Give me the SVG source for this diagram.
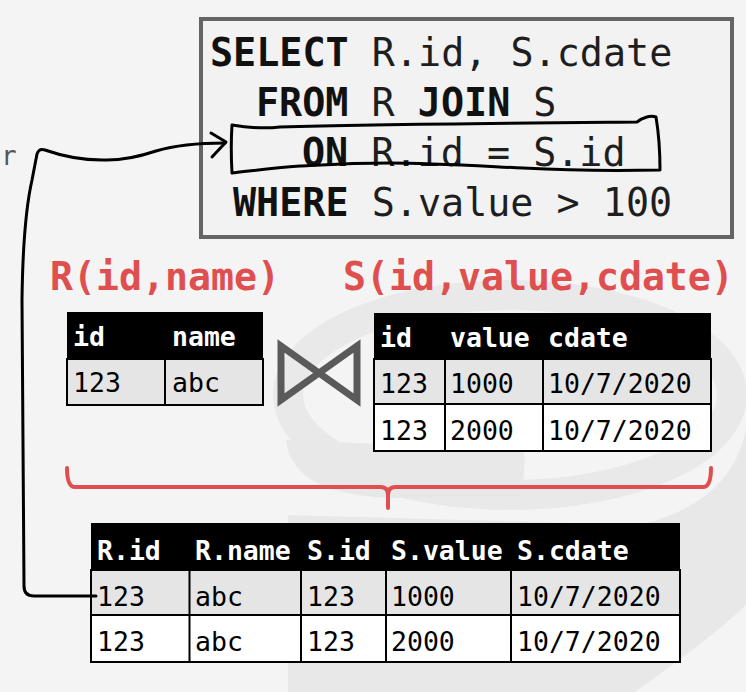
<svg xmlns="http://www.w3.org/2000/svg" width="746" height="692" viewBox="0 0 746 692">
<style>
text { font-family: "DejaVu Sans Mono", "Liberation Mono", monospace; white-space: pre; }
.sql { font-size: 38.4px; fill: #1e1e1e; }
.kw { font-weight: bold; fill: #111; }
.red { font-size: 38.2px; font-weight: bold; fill: #e04f4f; }
.th { font-size: 26.5px; font-weight: bold; fill: #ffffff; }
.td { font-size: 26.5px; fill: #000; }
.hdr { fill: #000; }
.cellg { fill: #e5e5e5; stroke: #000; stroke-width: 2; }
.cellw { fill: #ffffff; stroke: #000; stroke-width: 2; }
.ink { fill: none; stroke: #000; stroke-width: 3; stroke-linecap: round; stroke-linejoin: round; }
.wm { fill: #e8e8e8; }
</style>
<rect width="746" height="692" fill="#f4f4f4"/>
<g id="watermark">
<ellipse cx="510" cy="395" rx="222" ry="100" fill="none" stroke="#e9e9e9" stroke-width="30"/>
<path class="wm" d="M286,440 Q292,497 400,498 L520,498 Q526,470 524,450 Z"/>
<path class="wm" d="M288,515 L288,692 L635,692 C680,660 720,630 746,605 L746,430 C735,480 700,510 640,525 Z"/>
</g>
<text x="1" y="165" style="font-size:26px; fill:#555">r</text>
<g id="sql-box">
<rect x="201" y="19" width="531" height="218" fill="#f2f2f2" stroke="#646464" stroke-width="4"/>
<text class="sql" x="210" y="66"><tspan class="kw">SELECT</tspan> R.id, S.cdate</text>
<text class="sql" x="256" y="116"><tspan class="kw">FROM</tspan> R <tspan class="kw">JOIN</tspan> S</text>
<text class="sql" x="302" y="166"><tspan class="kw">ON</tspan> R.id = S.id</text>
<text class="sql" x="233" y="216"><tspan class="kw">WHERE</tspan> S.value &gt; 100</text>
</g>
<g id="highlight">
<path class="ink" d="M232,125 C250,128 262,129 280,127 C380,124 520,123 637,122 M637,122 C642,118 650,115 656,117 C659,135 660,152 660,170 C610,171 560,170 523,168 C480,166 430,163 390,163 C350,163 320,165 300,166 C270,168 250,171 232,173 C231,155 231,140 232,125"/>
</g>
<g id="label-R"><text class="red" x="50" y="290">R(id,name)</text></g>
<g id="label-S"><text class="red" x="343" y="290">S(id,value,cdate)</text></g>
<g id="table-R">
<rect class="hdr" x="67" y="312" width="196" height="47"/>
<rect class="cellg" x="67" y="359" width="196" height="46"/>
<line x1="165" y1="359" x2="165" y2="405" stroke="#000" stroke-width="2"/>
<text class="th" x="73" y="346">id</text>
<text class="th" x="172" y="346">name</text>
<text class="td" x="73" y="392">123</text>
<text class="td" x="172" y="392">abc</text>
</g>
<g id="join-symbol">
<path d="M281,346 L281,400 L357,346 L357,400 Z" fill="none" stroke="#5a5a5a" stroke-width="7" stroke-miterlimit="6"/>
</g>
<g id="table-S">
<rect class="hdr" x="374" y="313" width="337" height="46"/>
<rect class="cellg" x="374" y="359" width="337" height="45"/>
<rect class="cellw" x="374" y="404" width="337" height="47"/>
<line x1="445" y1="359" x2="445" y2="451" stroke="#000" stroke-width="2"/>
<line x1="543" y1="359" x2="543" y2="451" stroke="#000" stroke-width="2"/>
<text class="th" x="380" y="347">id</text>
<text class="th" x="450" y="347">value</text>
<text class="th" x="548" y="347">cdate</text>
<text class="td" x="380" y="393">123</text>
<text class="td" x="450" y="393">1000</text>
<text class="td" x="548" y="393">10/7/2020</text>
<text class="td" x="380" y="440">123</text>
<text class="td" x="450" y="440">2000</text>
<text class="td" x="548" y="440">10/7/2020</text>
</g>
<g id="brace">
<path d="M67,468 Q67,487 75,487 L381,487 Q388,487 388,495 L388,508 M388,495 Q388,487 395,487 L703,487 Q711,487 711,468" fill="none" stroke="#e04f4f" stroke-width="4" stroke-linecap="round"/>
</g>
<g id="table-result">
<rect class="hdr" x="91" y="523" width="589" height="47"/>
<rect class="cellg" x="91" y="570" width="589" height="45"/>
<rect class="cellw" x="91" y="615" width="589" height="47"/>
<g stroke="#000" stroke-width="2">
<line x1="189.5" y1="570" x2="189.5" y2="662"/>
<line x1="301" y1="570" x2="301" y2="662"/>
<line x1="386" y1="570" x2="386" y2="662"/>
<line x1="511" y1="570" x2="511" y2="662"/>
</g>
<text class="th" x="97" y="560">R.id</text>
<text class="th" x="195" y="560">R.name</text>
<text class="th" x="307" y="560">S.id</text>
<text class="th" x="391" y="560">S.value</text>
<text class="th" x="517" y="560">S.cdate</text>
<text class="td" x="97" y="606">123</text>
<text class="td" x="195" y="606">abc</text>
<text class="td" x="307" y="606">123</text>
<text class="td" x="391" y="606">1000</text>
<text class="td" x="517" y="606">10/7/2020</text>
<text class="td" x="97" y="651">123</text>
<text class="td" x="195" y="651">abc</text>
<text class="td" x="307" y="651">123</text>
<text class="td" x="391" y="651">2000</text>
<text class="td" x="517" y="651">10/7/2020</text>
</g>
<g id="connectors">
<path class="ink" d="M96,596 L34,596 Q24,596 24,586 L22,300 Q23,220 32,180 L37,154 Q39,148 45,150 C62,156 82,160 102,160 C122,161 138,157 156,151 C176,145 200,143 225,143"/>
<path class="ink" d="M211,133 L226,142 L212,157"/>
</g>
</svg>
